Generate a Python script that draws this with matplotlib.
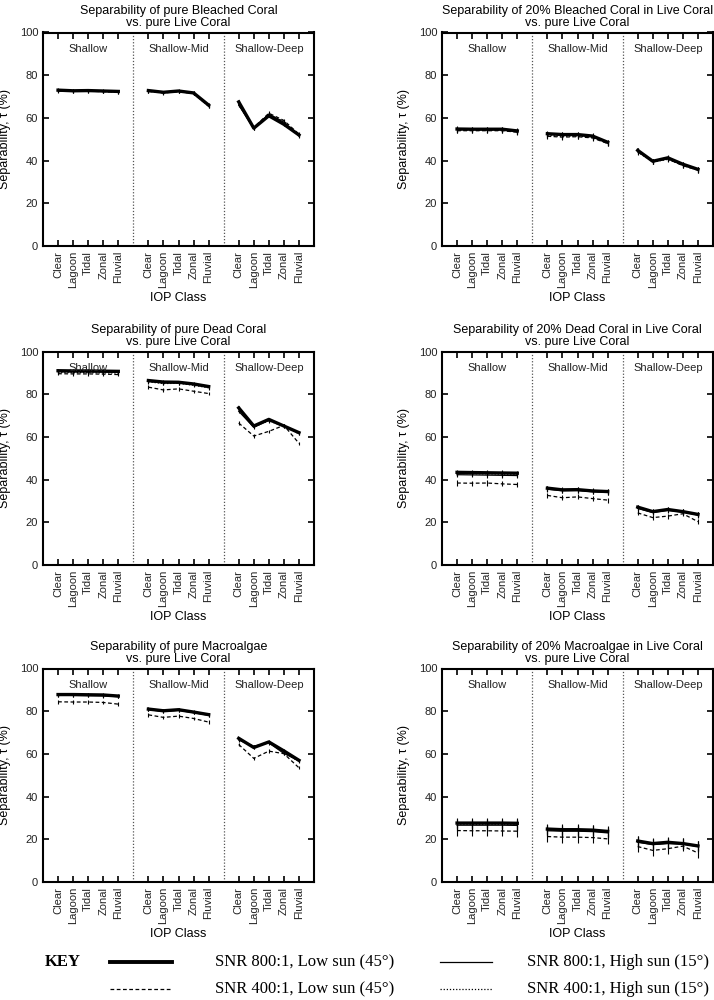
import numpy as np
import matplotlib
matplotlib.use('Agg')
import matplotlib.pyplot as plt
from matplotlib.lines import Line2D

plt.rcParams['font.family'] = ['Liberation Sans', 'DejaVu Sans']

# IOP classes and depth groups
iop_classes = ['Clear', 'Lagoon', 'Tidal', 'Zonal', 'Fluvial']
depth_groups = ['Shallow', 'Shallow-Mid', 'Shallow-Deep']

titles = ['Separability of pure Bleached Coral\nvs. pure Live Coral',
          'Separability of 20% Bleached Coral in Live Coral\nvs. pure Live Coral',
          'Separability of pure Dead Coral\nvs. pure Live Coral',
          'Separability of 20% Dead Coral in Live Coral\nvs. pure Live Coral',
          'Separability of pure Macroalgae\nvs. pure Live Coral',
          'Separability of 20% Macroalgae in Live Coral\nvs. pure Live Coral']

# values: Shallow (5), Shallow-Mid (5), Shallow-Deep (5)
# pure bleached coral
bleach_800_low = [73.0, 72.7, 72.8, 72.6, 72.4, 72.8, 72.0, 72.6, 71.7, 66.0, 67.5, 55.2, 61.0, 57.0, 52.0]
bleach_800_high = [72.8, 72.6, 72.7, 72.5, 72.3, 72.6, 71.9, 72.5, 71.6, 65.8, 66.0, 55.0, 61.8, 58.0, 51.6]
bleach_400_low = [72.6, 72.4, 72.5, 72.3, 72.1, 72.4, 71.7, 72.3, 71.4, 65.5, 66.5, 55.5, 62.2, 58.8, 52.4]
bleach_400_high = [72.7, 72.5, 72.6, 72.4, 72.2, 72.5, 71.8, 72.4, 71.5, 65.6, 66.2, 55.3, 61.5, 58.4, 51.8]
# 20% bleached coral
bleach20_800_low = [54.8, 54.7, 54.7, 54.7, 53.9, 52.6, 52.2, 52.2, 51.5, 48.6, 44.8, 39.7, 41.3, 38.3, 35.9]
bleach20_800_high = [54.6, 54.6, 54.6, 54.6, 53.8, 52.4, 52.0, 52.0, 51.3, 48.4, 44.5, 39.5, 41.0, 38.0, 35.7]
bleach20_400_low = [54.0, 54.0, 54.0, 54.0, 53.3, 51.4, 51.0, 51.2, 50.6, 48.0, 44.2, 39.6, 40.8, 37.6, 35.6]
bleach20_400_high = [54.3, 54.3, 54.3, 54.3, 53.5, 51.8, 51.4, 51.5, 50.9, 48.2, 44.0, 39.4, 40.6, 37.8, 35.5]
# pure dead coral
dead_800_low = [91.0, 90.9, 90.9, 90.8, 90.7, 86.4, 85.7, 85.6, 84.8, 83.6, 73.6, 65.1, 68.2, 65.1, 62.0]
dead_800_high = [90.6, 90.5, 90.5, 90.4, 90.3, 86.0, 85.3, 85.3, 84.5, 83.3, 72.0, 64.5, 67.8, 65.3, 61.7]
dead_400_low = [89.6, 89.5, 89.5, 89.4, 89.2, 83.3, 82.0, 82.5, 81.4, 80.3, 66.5, 60.4, 62.6, 65.4, 57.0]
dead_400_high = [90.2, 90.1, 90.1, 90.0, 89.9, 85.8, 85.0, 85.1, 84.2, 83.0, 72.8, 64.8, 67.5, 65.0, 61.5]
# 20% dead coral
dead20_800_low = [43.4, 43.3, 43.2, 43.1, 43.0, 36.0, 35.2, 35.3, 34.7, 34.4, 27.1, 25.0, 26.0, 25.0, 23.7]
dead20_800_high = [42.3, 42.2, 42.1, 42.0, 41.9, 35.5, 34.8, 34.9, 34.3, 34.0, 26.5, 24.6, 25.6, 24.8, 23.4]
dead20_400_low = [38.4, 38.3, 38.4, 38.0, 37.7, 32.6, 31.5, 31.9, 31.1, 30.4, 24.4, 22.2, 22.9, 24.0, 20.3]
dead20_400_high = [42.9, 42.8, 42.7, 42.6, 42.5, 35.7, 35.0, 35.1, 34.5, 34.2, 26.8, 24.8, 25.8, 24.9, 23.5]
# pure macroalgae
macro_800_low = [87.8, 87.8, 87.7, 87.6, 87.1, 81.0, 80.2, 80.7, 79.6, 78.4, 67.3, 63.0, 65.6, 61.4, 57.0]
macro_800_high = [87.4, 87.4, 87.3, 87.2, 86.8, 80.7, 79.9, 80.4, 79.3, 78.1, 66.5, 63.6, 65.2, 60.2, 56.8]
macro_400_low = [84.4, 84.3, 84.3, 84.1, 83.3, 78.3, 77.1, 77.7, 76.6, 74.9, 64.4, 57.9, 61.3, 60.1, 53.5]
macro_400_high = [87.6, 87.6, 87.5, 87.4, 87.0, 80.8, 80.0, 80.5, 79.5, 78.2, 66.8, 63.3, 65.4, 60.8, 56.4]
# 20% macroalgae
macro20_800_low = [27.6, 27.6, 27.6, 27.6, 27.5, 24.8, 24.5, 24.5, 24.3, 23.7, 19.2, 18.0, 18.6, 18.0, 16.9]
macro20_800_high = [26.6, 26.6, 26.6, 26.6, 26.5, 24.0, 23.8, 23.8, 23.6, 23.0, 18.6, 17.5, 18.0, 17.8, 16.6]
macro20_400_low = [24.1, 24.0, 24.0, 23.9, 23.8, 21.3, 21.0, 21.0, 20.8, 20.2, 16.6, 14.8, 15.6, 16.8, 13.6]
macro20_400_high = [27.1, 27.1, 27.1, 27.1, 27.0, 24.4, 24.1, 24.2, 24.0, 23.4, 18.9, 17.7, 18.3, 17.9, 16.8]

# error bar half-widths per panel
errors = [0.8, 1.2, 0.8, 1.2, 0.8, 2.5]

panels = [
    (bleach_800_low, bleach_800_high, bleach_400_low, bleach_400_high),
    (bleach20_800_low, bleach20_800_high, bleach20_400_low, bleach20_400_high),
    (dead_800_low, dead_800_high, dead_400_low, dead_400_high),
    (dead20_800_low, dead20_800_high, dead20_400_low, dead20_400_high),
    (macro_800_low, macro_800_high, macro_400_low, macro_400_high),
    (macro20_800_low, macro20_800_high, macro20_400_low, macro20_400_high),
]

# line styles: 800 low, 800 high, 400 low, 400 high
styles = [dict(lw=2.4, ls='-'), dict(lw=0.9, ls='-'),
          dict(lw=0.9, ls=(0, (3, 2))), dict(lw=0.9, ls=(0, (1, 1.5)))]

fig = plt.figure(figsize=(7.14, 10), dpi=100)

lefts = [43 / 714, 442 / 714]
bottoms = [0.754, 0.435, 0.118]
w = 271 / 714
h = 0.2135

xpos = [1, 2, 3, 4, 5, 7, 8, 9, 10, 11, 13, 14, 15, 16, 17]

for k in range(6):
    r, c = divmod(k, 2)
    ax = fig.add_axes([lefts[c], bottoms[r], w, h])
    for series, st in zip(panels[k], styles):
        for g in range(3):
            xs = xpos[g * 5:(g + 1) * 5]
            ys = series[g * 5:(g + 1) * 5]
            ax.errorbar(xs, ys, yerr=errors[k], color='black', lw=st['lw'], ls=st['ls'],
                        elinewidth=0.8, capsize=0)
    for xd in [6, 12]:
        ax.axvline(xd, color='#555555', lw=0.9, ls=(0, (1, 1.5)))
    for g, name in enumerate(depth_groups):
        ax.text(3 + 6 * g, 92.5, name, ha='center', va='center', fontsize=8, color='#222222')
    ax.set_xlim(0, 18)
    ax.set_ylim(0, 100)
    ax.set_yticks([0, 20, 40, 60, 80, 100])
    ax.set_xticks(xpos)
    ax.set_xticklabels(iop_classes * 3, rotation=90, fontsize=8, color='#222222')
    ax.tick_params(axis='y', labelsize=8, labelcolor='#222222')
    ax.tick_params(direction='in', top=True, right=True, length=4, width=1.2)
    for sp in ax.spines.values():
        sp.set_linewidth(1.5)
    ax.set_xlabel('IOP Class', fontsize=9, labelpad=3)
    ax.set_ylabel('Separability, τ (%)', fontsize=9, labelpad=6)
    ax.set_title(titles[k], fontsize=9, pad=5, linespacing=0.95)

# key
serif = ['Liberation Serif', 'DejaVu Serif']
fig.text(45 / 714, 0.038, 'KEY', fontsize=12, fontweight='bold', family=serif, va='center')
key_rows = [0.038, 0.011]
key_items = [
    (0, 0, 'SNR 800:1, Low sun (45°)'),
    (0, 1, 'SNR 800:1, High sun (15°)'),
    (1, 0, 'SNR 400:1, Low sun (45°)'),
    (1, 1, 'SNR 400:1, High sun (15°)'),
]
line_x = [(110 / 714, 172 / 714), (440 / 714, 492 / 714)]
text_x = [215 / 714, 527 / 714]
for i, (row, col, label) in enumerate(key_items):
    st = styles[col + 2 * row]
    y = key_rows[row]
    fig.add_artist(Line2D(line_x[col], [y, y], color='black', lw=st['lw'] + (0.4 if i == 0 else 0),
                          ls=st['ls'], transform=fig.transFigure))
    fig.text(text_x[col], y, label, fontsize=12, family=serif, va='center')

fig.savefig('out.png', dpi=100)
